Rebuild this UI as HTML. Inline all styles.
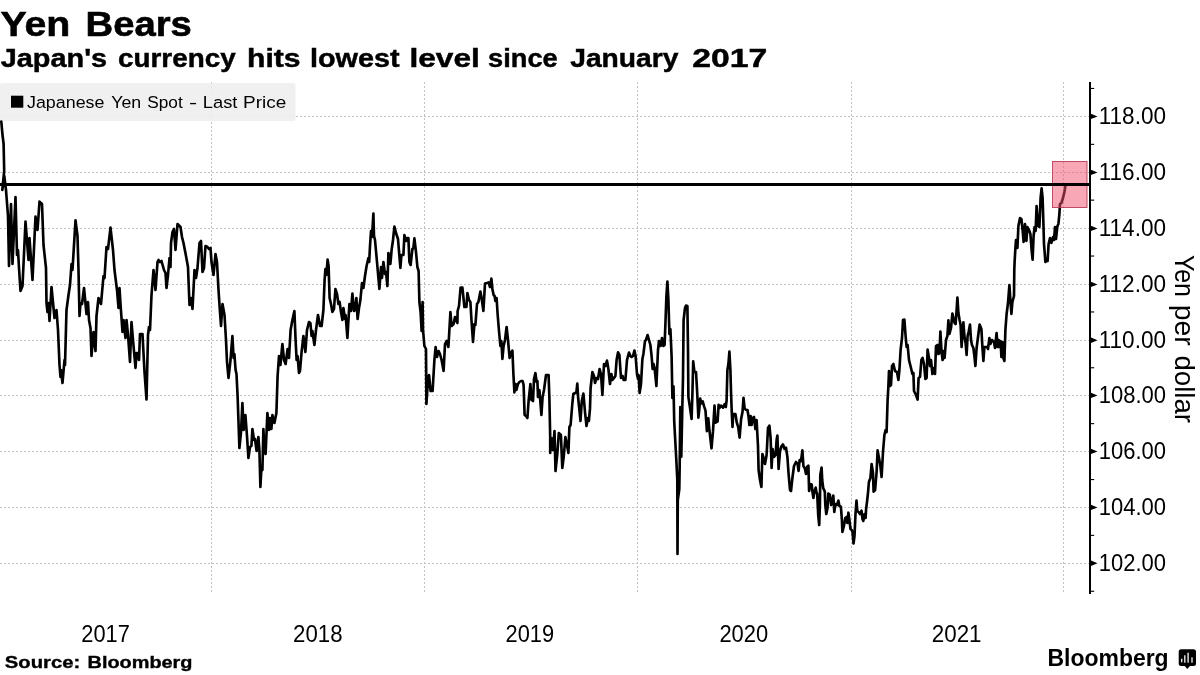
<!DOCTYPE html>
<html><head><meta charset="utf-8"><title>Yen Bears</title>
<style>html,body{margin:0;padding:0;background:#fff}body{width:1200px;height:675px;overflow:hidden}svg{display:block;will-change:transform}text{font-family:"Liberation Sans",sans-serif;fill:#000}</style>
</head><body>
<svg width="1200" height="675" viewBox="0 0 1200 675">
<rect x="0" y="0" width="1200" height="675" fill="#fff"/>
<text x="0.47" y="36.4" font-size="35.5" font-weight="700" textLength="69.92" lengthAdjust="spacingAndGlyphs" stroke="#000" stroke-width="0.6">Yen</text>
<text x="85.58" y="36.4" font-size="35.5" font-weight="700" textLength="106.27" lengthAdjust="spacingAndGlyphs" stroke="#000" stroke-width="0.6">Bears</text>
<text x="0.72" y="67.4" font-size="25" font-weight="700" textLength="106.36" lengthAdjust="spacingAndGlyphs" stroke="#000" stroke-width="0.45">Japan's</text>
<text x="118.09" y="67.4" font-size="25" font-weight="700" textLength="117.55" lengthAdjust="spacingAndGlyphs" stroke="#000" stroke-width="0.45">currency</text>
<text x="247.09" y="67.4" font-size="25" font-weight="700" textLength="53.56" lengthAdjust="spacingAndGlyphs" stroke="#000" stroke-width="0.45">hits</text>
<text x="309.99" y="67.4" font-size="25" font-weight="700" textLength="89.56" lengthAdjust="spacingAndGlyphs" stroke="#000" stroke-width="0.45">lowest</text>
<text x="409.49" y="67.4" font-size="25" font-weight="700" textLength="70.37" lengthAdjust="spacingAndGlyphs" stroke="#000" stroke-width="0.45">level</text>
<text x="488.11" y="67.4" font-size="25" font-weight="700" textLength="69.61" lengthAdjust="spacingAndGlyphs" stroke="#000" stroke-width="0.45">since</text>
<text x="570.24" y="67.4" font-size="25" font-weight="700" textLength="108.22" lengthAdjust="spacingAndGlyphs" stroke="#000" stroke-width="0.45">January</text>
<text x="692.29" y="67.4" font-size="25" font-weight="700" textLength="75.03" lengthAdjust="spacingAndGlyphs" stroke="#000" stroke-width="0.45">2017</text>
<g stroke="#c2c2c2" stroke-width="1" stroke-dasharray="2 2" fill="none" shape-rendering="crispEdges">
<line x1="0" y1="116.5" x2="1090" y2="116.5"/>
<line x1="0" y1="172.5" x2="1090" y2="172.5"/>
<line x1="0" y1="228.5" x2="1090" y2="228.5"/>
<line x1="0" y1="284.5" x2="1090" y2="284.5"/>
<line x1="0" y1="340.5" x2="1090" y2="340.5"/>
<line x1="0" y1="395.5" x2="1090" y2="395.5"/>
<line x1="0" y1="451.5" x2="1090" y2="451.5"/>
<line x1="0" y1="507.5" x2="1090" y2="507.5"/>
<line x1="0" y1="563.5" x2="1090" y2="563.5"/>
<line x1="211.5" y1="82" x2="211.5" y2="594"/>
<line x1="424.5" y1="82" x2="424.5" y2="594"/>
<line x1="637.5" y1="82" x2="637.5" y2="594"/>
<line x1="851.5" y1="82" x2="851.5" y2="594"/>
<line x1="1063.5" y1="82" x2="1063.5" y2="594"/>
</g>
<rect x="0" y="83" width="295.5" height="38" rx="2" fill="#eeeeee" fill-opacity="0.86"/>
<rect x="11" y="95.7" width="12.3" height="12" fill="#000"/>
<text x="27.04" y="108.3" font-size="17.4" textLength="77.35" lengthAdjust="spacingAndGlyphs">Japanese</text>
<text x="111.19" y="108.3" font-size="17.4" textLength="29.94" lengthAdjust="spacingAndGlyphs">Yen</text>
<text x="147.26" y="108.3" font-size="17.4" textLength="35.47" lengthAdjust="spacingAndGlyphs">Spot</text>
<text x="188.94" y="108.3" font-size="17.4" textLength="8.18" lengthAdjust="spacingAndGlyphs">-</text>
<text x="202.82" y="108.3" font-size="17.4" textLength="34.61" lengthAdjust="spacingAndGlyphs">Last</text>
<text x="243.07" y="108.3" font-size="17.4" textLength="43.19" lengthAdjust="spacingAndGlyphs">Price</text>
<polyline points="1.3,121.5 2.3,133 3.6,144 4.2,171 2.3,190 4.3,176 6,190 8,216 9,266 11,204 12.5,264 15.5,197 17,255 18,250 19,268 20.5,291 22.5,286 25.5,221.6 28.5,260 29.5,238 32.5,280 35.5,216.6 37.5,230 39.5,201.6 42,204 43.5,245 46,268 46.5,303 47.5,312 48.5,303 49.5,321 51.5,287 54.5,318 56.5,310 58,330 59.5,365 60.5,377 61,370 62.5,383 64.5,360 65,365 66.5,310 68.5,295 70,285 71.5,264 72.5,270 75.5,220.4 77.5,236 78.5,270 79.5,316 80.5,303 82,304 84,288 86.5,314 88,302 89,320 90.5,328 91.5,356 93.5,332 95.5,351 96.5,316 98.5,298 101,304 103.5,276 104.5,278 106.5,247 108,249 110.5,227.6 113,250 114.5,270 117,290 118.5,308 119.5,288 120.5,304 122.5,332 123.5,320 125.5,338 126.5,320 128,335 130,362 131.5,322 133,340 135.5,368 136.5,353 137.5,353 139,360 140,334 142.5,334 144.5,372 146.5,399.5 148,335 149,327 150,330 151.5,295 153.5,270 155.5,290 157.5,262 158.5,260 160,262 161.5,261 164,270 165.5,273 166.5,288 168,275 169.5,258 170.5,267 171,243 172.5,232 174,229 175.5,250 177.5,224 180.5,227 182,237 183.5,243 186,256 188,267 188.5,280 189.5,305 191,298 192.5,309 194.5,270 196,278 197.5,268 199.5,243 201,241 202.5,272 204,268 205.5,246 207.5,247 209,249 210.5,248 211.5,262 213.5,275 215.5,254 217,262 218.5,290 219.5,305 221,326 222.5,304 224.5,315 226,340 227,362 228.5,378 230.5,360 232.4,336 233.6,358 234.4,354 235.6,370 236.5,374 237.6,396 239.4,448 241,432 242.4,403 243.6,430 245.4,415 247,436 248.4,458 250,447 251.4,446 252.4,429 254,440 255,439 256.6,451 258.4,437 259.4,450 260.4,487 261.4,468 262.4,470 263.4,429 264.4,450 265.6,454 267.4,413 269,430 270,418 271.4,429 272.4,415 274.4,423 276.4,413 277.6,376 279,356 280.4,365 282.4,344 284,360 285.6,364 287.6,349 289,358 290.6,330 292.4,320 294.4,311 295.6,340 296.6,360 297.6,356 299,373 300,371 301.6,352 303.4,336 305.4,352 307,330 309,322 310.4,323 311.6,336 312.4,331 314.4,345 316,330 318,315 320,326 321.6,326 323.4,310 324.6,280 325.4,269 326.4,275 327.6,259.6 328.6,266 329.6,298 331,304 332.4,312 334,309 335.4,289 337,294 338.4,304 339.6,302 341,312 342.4,320 343.4,308 345,319 345.6,315 347.4,338 349.4,304 351,311 352.4,293.6 354,311 355,310 356.4,298 357.6,319 359,308 360.4,300 362,283 363.4,288 365,276 366.6,266 368.4,258 369.2,262 370,246 371,231 372,237 373.4,213.6 374,236 375,240 377,262 378.4,278 379.4,289 381,267 382,278 383.4,262 385,274 386,272 387.4,286 388.4,253 390.4,264 391.6,250 393,240 394.4,226.6 396,233 398,239 399.4,256 400.4,268 401.4,255 403.4,255 404.4,235 406,241 407,238 408.4,238 409.4,262 410.6,265 412.4,249 413.4,248 414.4,238.4 416,252 417.4,267 418.6,271 419.4,302 420.6,312 421.6,331 422.6,302 423,330 424.4,346 426,349 426.4,404 428,380 429,375 430.6,391 432.6,391 434.4,360 435.6,347 437,357 438.6,351 440,354 441.6,360 443.6,371 445,344 446.6,341 448.4,347 450.4,312 451.6,326 453.6,324 455,317 456,320 457.4,323 457.6,311 459,306 460.6,287.6 462.4,287.6 464.4,307 466.4,307 467.4,293 469,300 470.4,302 471.4,319 473,342 474.4,324 475.4,325 477,304 478.4,302 480.4,291.6 481.6,298 483.4,311 485,283.6 487,283 488.6,282.4 490,287 491.4,278.6 492.4,289 493.6,295 494.6,296 495.4,301 496.6,298 497.6,314 499,331 500.4,346 501.4,341 502.4,359 503.6,346 505,340 506.6,327 508,340 509.6,358 511,353 512.4,350.6 513.4,374 514.4,392.4 515.6,384 516.4,390 518,384 519.4,382 521,381 522.6,381 523.6,385 524.6,415 526,416 527.4,418 528.6,401 530.4,384 531.4,400 533,401 534,379 535.4,373 536.6,382 537.4,381 538,397 539.4,390 541.4,415 542.6,397 544,390 546,375 548.6,375 549.4,399 550.2,437 550.2,453 551.4,438 553,450 554.5,431 555.5,471 557.3,454 558.8,433 560.9,435 562.3,468 563.7,457 565.4,437 566.6,443 568.4,453 569.4,427 570.6,425 572.3,404 573.3,394 575.1,393 576.3,393 577.3,383.6 578.2,398.5 579.4,410 580.5,421 581.8,401 583.4,393.5 585.1,413 586.5,426 587.9,418 588.9,421 590,408.4 590.6,388 592.4,372 594,376 595,383 596.6,378 598,379 599.6,369 601,374 602.4,395 604,364 605.4,366 607,360.6 608.4,369 610,384 611.4,374 612.4,380 614,378 615.4,376 616.6,360 618,352.4 619.4,355 621,378 622.6,376 623.6,380 625.4,380 627,360 629,352.6 630.4,356 631.6,357 633,356 634.4,350.6 635.6,356 637,374 638,379 638.6,375 639.6,393 641,384 642.4,359 643.4,354 645,341 646,340 647.6,335 649,340 650.4,345 651.6,356 652.6,369 653.6,364 654.6,368 656.4,386 658,350 659,341 660.6,346 662,338 663.4,346 664.6,345 665.4,324 666.4,296 667.4,281.6 668.4,300 669.4,334 670.4,329 671.6,356 672.4,398 673.5,386.4 674.2,421 675.2,439.7 676.3,459.7 677.3,480 677.5,554 677.8,500 679.3,489 679.7,465 680.3,407 681.3,456.8 682.3,408.4 683,378 683.6,320 685,308 686,305.6 687.4,306 688,350 688.4,397 689.9,407 691.6,419 692.4,394.2 693.2,361.4 694.4,372 696,372 697,389 698.4,417.7 699.4,408.4 700.2,398.5 701.2,403.5 702.7,401.3 704.1,406.3 705.5,410.6 706.9,431.2 708.3,418.4 709.3,429 711.5,448.3 713,431.2 714.5,405.6 715.5,422.7 717.6,421.3 718.6,404.9 719.7,407.7 721.1,405.6 723,407.7 724.7,404.2 725.8,407 726.6,400.6 727.4,370 728.4,364 729.4,351.6 730.4,370 731.1,394.2 731.8,412.7 732.5,427 733.2,414 735.4,414 736.8,422.7 738.2,427 739.6,437.6 741.1,419 742.5,412 743.5,397.8 744.6,408.4 746,410 747.5,410 748.6,417 749.4,425 750.6,416 751.6,425 752.6,418 754,417 755.4,429 756.6,420 758,446 758.6,470 760,480 761.4,487 762.4,454 763.6,458 765,464 766.6,455 768,428 769.4,425.6 770.6,438 771.6,468 772.6,449 774,457 775.6,455 776.6,440 777.4,435.6 778.6,469 780,451 781.6,446 783,444.4 784.6,449 786,447.6 787.4,457 788.6,474 790,490 791,491 792.4,478 794,466 796,462 797.6,464 798.6,471 799.6,460 801,461 802.4,450.4 803.4,466 805,469 806,474 807,467 808.4,465.6 809.1,491 810.2,484 811.7,484.5 812.2,490 813.4,498 814.4,492 815.7,487.6 816.5,492.6 817.2,493.6 818.2,515 819.2,525 819.9,505 820.3,475 821.6,467.6 822.2,480 823.2,488 824.8,491.6 825.3,505 826.3,514 827.5,508 828.3,493.6 829.8,494.6 831.1,505 832.3,501 833.3,495.6 834.3,512 835.3,504 836.9,505 838.4,500.6 839.4,506 840.9,506.7 841.9,520 842.4,532 843.9,526 845.4,517.8 846.6,517 847.4,523 848.4,512.7 849.4,520 850.5,529 851.7,530 852.5,532 853.5,543.5 854.5,536 855.5,514 856.5,500.6 857.3,511 858.5,512 860,514 861.5,510.7 862.5,519 863.3,521 864.6,514 865.6,518 866.1,509 867.1,501 868.1,492 868.9,482 870.4,478 871.6,464 873,473 873.6,491.6 875.1,490 876.6,472 877.6,450.4 879,458 880.4,466 881.6,477 883,452 884.4,435 885.6,430 886.6,432 887.6,400 888.3,388 889,371 890,386 891,385 892,366 893.4,364 895,371 897,372 898.4,380 899.4,370 900.6,350 902,338 903,320 904.4,319.6 905.6,336 906.6,347 907.6,345 909,360 911,368 912.4,374 913.4,373 914,391 916,395 917.6,399.6 918.6,378 920,377 921.4,360 922.6,358 924,364 925.4,379 926.6,378 927.6,349.6 929,358 930,366 931,360 932.4,374 933.6,368 935,374 936,346 937.4,345 938.4,354 939.4,353 940.4,331.6 941.4,350 942.6,360 943.6,351 944.6,358 946,340 947.4,336 948.4,320.4 949.4,334 951,328 952.4,313.6 953.4,318 954.6,323 955.6,324 956.6,310 957.4,297.6 958.4,313 959.6,320 960.6,325 961.6,347 962.4,334 963.4,322.4 964.6,338 965.6,343 966.6,355 967.6,336 968.6,332 970,324.6 971,340 972,345 973.4,348 974.4,356 975.4,366 976.6,348 978.4,334 979.6,324.6 981.4,329 982.4,347 983.4,361 984.4,347 987,347 988,349 989.4,338 990.4,344 992,340 994,342 995,348 996.6,333 997.6,347 998.6,340 999.4,347 1000.6,341 1001.4,357 1002.4,342 1003.4,358 1004.4,361 1005.4,330 1006.6,314 1008,303 1009.4,285 1010.4,300 1011.4,314 1012.4,302 1014,296 1014.3,270 1014.6,262 1015.4,248 1016,240 1017.4,248 1018.4,226 1020,218 1021.4,219 1022.6,230 1023.6,242 1025,224 1026.4,241 1027.4,227 1029,230 1030.4,234 1031.6,250 1032.6,259.6 1033.6,236 1034.6,227 1035.6,231 1036.6,206 1038,226 1039.4,227 1040.6,198 1041.6,188.4 1042.6,198 1043.6,230 1044,244 1045.4,262 1046.6,260 1047.6,261 1048.6,244 1050,238 1051.4,243 1053,237 1054,240 1055,227 1056,239 1057.4,226 1058.4,224 1059.4,214 1060,204 1061.4,203 1063,198 1064.4,192 1065.4,186" fill="none" stroke="#000" stroke-width="2.65" stroke-linejoin="round" stroke-linecap="round"/>
<rect x="1052.5" y="161.5" width="34.5" height="46" fill="#f2506f" fill-opacity="0.5" stroke="#b8324e" stroke-opacity="0.85" stroke-width="1"/>
<rect x="0" y="183" width="1090" height="3" fill="#000"/>
<rect x="1089" y="82" width="2" height="512" fill="#000"/>
<path d="M1091 113.7 L1097.5 116.4 L1091 119.1 Z" fill="#000"/>
<text x="1098.70" y="124.30000000000001" font-size="23.2" textLength="67.33" lengthAdjust="spacingAndGlyphs">118.00</text>
<path d="M1091 169.7 L1097.5 172.4 L1091 175.1 Z" fill="#000"/>
<text x="1098.70" y="180.3" font-size="23.2" textLength="67.33" lengthAdjust="spacingAndGlyphs">116.00</text>
<path d="M1091 225.7 L1097.5 228.4 L1091 231.1 Z" fill="#000"/>
<text x="1098.70" y="236.3" font-size="23.2" textLength="67.33" lengthAdjust="spacingAndGlyphs">114.00</text>
<path d="M1091 281.7 L1097.5 284.4 L1091 287.1 Z" fill="#000"/>
<text x="1098.70" y="292.29999999999995" font-size="23.2" textLength="67.33" lengthAdjust="spacingAndGlyphs">112.00</text>
<path d="M1091 337.6 L1097.5 340.3 L1091 343 Z" fill="#000"/>
<text x="1098.70" y="348.2" font-size="23.2" textLength="67.33" lengthAdjust="spacingAndGlyphs">110.00</text>
<path d="M1091 392.7 L1097.5 395.4 L1091 398.1 Z" fill="#000"/>
<text x="1098.74" y="403.29999999999995" font-size="23.2" textLength="67.23" lengthAdjust="spacingAndGlyphs">108.00</text>
<path d="M1091 448.7 L1097.5 451.4 L1091 454.1 Z" fill="#000"/>
<text x="1098.74" y="459.29999999999995" font-size="23.2" textLength="67.23" lengthAdjust="spacingAndGlyphs">106.00</text>
<path d="M1091 504.7 L1097.5 507.4 L1091 510.1 Z" fill="#000"/>
<text x="1098.74" y="515.3" font-size="23.2" textLength="67.23" lengthAdjust="spacingAndGlyphs">104.00</text>
<path d="M1091 560.6 L1097.5 563.3 L1091 566 Z" fill="#000"/>
<text x="1098.74" y="571.1999999999999" font-size="23.2" textLength="67.23" lengthAdjust="spacingAndGlyphs">102.00</text>
<rect x="1091" y="87.9" width="3.2" height="1.1" fill="#000"/>
<rect x="1091" y="143.8" width="3.2" height="1.1" fill="#000"/>
<rect x="1091" y="199.6" width="3.2" height="1.1" fill="#000"/>
<rect x="1091" y="255.5" width="3.2" height="1.1" fill="#000"/>
<rect x="1091" y="311.4" width="3.2" height="1.1" fill="#000"/>
<rect x="1091" y="367.2" width="3.2" height="1.1" fill="#000"/>
<rect x="1091" y="423.1" width="3.2" height="1.1" fill="#000"/>
<rect x="1091" y="479" width="3.2" height="1.1" fill="#000"/>
<rect x="1091" y="534.8" width="3.2" height="1.1" fill="#000"/>
<rect x="1091" y="590.7" width="3.2" height="1.1" fill="#000"/>
<text transform="translate(1175.4,254.92) rotate(90)" font-size="27.5" textLength="41.87" lengthAdjust="spacingAndGlyphs">Yen</text>
<text transform="translate(1175.4,304.69) rotate(90)" font-size="27.5" textLength="41.02" lengthAdjust="spacingAndGlyphs">per</text>
<text transform="translate(1175.4,355.45) rotate(90)" font-size="27.5" textLength="67.47" lengthAdjust="spacingAndGlyphs">dollar</text>
<text x="81.32" y="642.2" font-size="23.2" textLength="48.50" lengthAdjust="spacingAndGlyphs">2017</text>
<text x="293.10" y="642.2" font-size="23.2" textLength="49.45" lengthAdjust="spacingAndGlyphs">2018</text>
<text x="505.52" y="642.2" font-size="23.2" textLength="48.50" lengthAdjust="spacingAndGlyphs">2019</text>
<text x="719.42" y="642.2" font-size="23.2" textLength="48.78" lengthAdjust="spacingAndGlyphs">2020</text>
<text x="931.79" y="642.2" font-size="23.2" textLength="49.76" lengthAdjust="spacingAndGlyphs">2021</text>
<text x="4.88" y="667.5" font-size="16.4" font-weight="700" textLength="75.31" lengthAdjust="spacingAndGlyphs" stroke="#000" stroke-width="0.35">Source:</text>
<text x="87.59" y="667.5" font-size="16.4" font-weight="700" textLength="104.94" lengthAdjust="spacingAndGlyphs" stroke="#000" stroke-width="0.35">Bloomberg</text>
<text x="1047.50" y="666.3" font-size="23" font-weight="700" textLength="121.13" lengthAdjust="spacingAndGlyphs">Bloomberg</text>
<path d="M1181.2 649.3 h12.3 a2.5 2.5 0 0 1 2.5 2.5 v11.7 a2.5 2.5 0 0 1 -2.5 2.5 h-3.6 l-2.6 2.9 l-2.6 -2.9 h-3.5 a2.5 2.5 0 0 1 -2.5 -2.5 v-11.7 a2.5 2.5 0 0 1 2.5 -2.5 z" fill="#000"/>
<rect x="1181" y="658.7" width="1.4" height="3.6" fill="#fff" fill-opacity="0.9"/>
<rect x="1184.1" y="655.3" width="1.4" height="7.4" fill="#fff" fill-opacity="0.9"/>
<rect x="1187.4" y="652.7" width="1.4" height="10" fill="#fff" fill-opacity="0.9"/>
<rect x="1191.3" y="657.3" width="1.4" height="5.4" fill="#fff" fill-opacity="0.9"/>
</svg>
</body></html>
